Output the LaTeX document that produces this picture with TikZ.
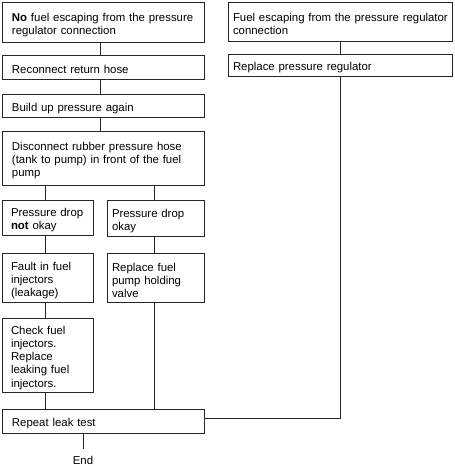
\documentclass[tikz,border=0pt]{standalone}
\usepackage{fontspec}
\setmainfont{Liberation Sans}
\newcommand{\myln}[1]{\mbox{#1}}
\newcommand{\topstrut}{\rule{0pt}{13.8pt}}
\begin{document}
\begin{tikzpicture}[x=1pt,y=1pt,
  box/.style={draw=black!85, line width=0.8pt, align=left, anchor=north west,
    inner ysep=0pt, outer sep=0pt, font=\fontsize{11.4}{13.2}\selectfont},
  lbox/.style={box, inner xsep=10pt},
  nbox/.style={box, inner xsep=9pt},
  rbox/.style={box, inner xsep=5pt},
  link/.style={draw=black!85, line width=0.8pt}
]
\useasboundingbox (0,0) rectangle (455,-466);
% column reference coordinates
\coordinate (xa) at (100,0);
\coordinate (xl) at (45,0);
\coordinate (xm) at (154,0);
\coordinate (xr) at (340,0);
\coordinate (xe) at (83,0);

\node[lbox, text width=182pt, minimum height=40pt] (A) at (2,-2)
  {\topstrut\myln{\textbf{No} fuel escaping from the pressure}\\\myln{regulator connection}};
\node[rbox, text width=214pt, minimum height=39pt] (B) at (228,-2)
  {\topstrut\myln{Fuel escaping from the pressure regulator}\\\myln{connection}};
\node[lbox, text width=182pt, minimum height=24pt] (C) at (2,-55)
  {\topstrut\myln{Reconnect return hose}};
\node[rbox, text width=214pt, minimum height=22pt] (D) at (228,-54)
  {\topstrut\myln{Replace pressure regulator}};
\node[lbox, text width=182pt, minimum height=23pt] (E) at (2,-94)
  {\topstrut\myln{Build up pressure again}};
\node[lbox, text width=182pt, minimum height=54pt] (F) at (2,-131)
  {\topstrut\myln{Disconnect rubber pressure hose}\\\myln{(tank to pump) in front of the fuel}\\\myln{pump}};
\node[nbox, text width=73pt, minimum height=35pt] (G) at (2,-200)
  {\topstrut\myln{Pressure drop}\\\myln{\textbf{not} okay}};
\node[rbox, text width=87pt, minimum height=36pt] (H) at (107,-200)
  {\topstrut\myln{Pressure drop}\\\myln{okay}};
\node[nbox, text width=73pt, minimum height=49pt] (I) at (2,-253)
  {\topstrut\myln{Fault in fuel}\\\myln{injectors}\\\myln{(leakage)}};
\node[rbox, text width=87pt, minimum height=49pt] (J) at (107,-253)
  {\topstrut\myln{Replace fuel}\\\myln{pump holding}\\\myln{valve}};
\node[nbox, text width=73pt, minimum height=74pt] (K) at (2,-318)
  {\topstrut\myln{Check fuel}\\\myln{injectors.}\\\myln{Replace}\\\myln{leaking fuel}\\\myln{injectors.}};
\node[lbox, text width=182pt, minimum height=24pt] (L) at (2,-409)
  {\topstrut\myln{Repeat leak test}};
\node[anchor=north, inner xsep=2pt, inner ysep=6.3pt, font=\fontsize{11.4}{13.2}\selectfont] (End) at (83,-449.3) {End};

% connectors
\draw[link] (A.south -| xa) -- (C.north -| xa);
\draw[link] (C.south -| xa) -- (E.north -| xa);
\draw[link] (E.south -| xa) -- (F.north -| xa);
\draw[link] (F.south -| xl) -- (G.north -| xl);
\draw[link] (F.south -| xm) -- (H.north -| xm);
\draw[link] (G.south -| xl) -- (I.north -| xl);
\draw[link] (H.south -| xm) -- (J.north -| xm);
\draw[link] (I.south -| xl) -- (K.north -| xl);
\draw[link] (K.south -| xl) -- (L.north -| xl);
\draw[link] (J.south -| xm) -- (L.north -| xm);
\draw[link] (B.south -| xr) -- (D.north -| xr);
\draw[link] (D.south -| xr) |- ([yshift=3pt]L.east);
\draw[link] (L.south -| xe) -- (End.north);
\end{tikzpicture}
\end{document}
